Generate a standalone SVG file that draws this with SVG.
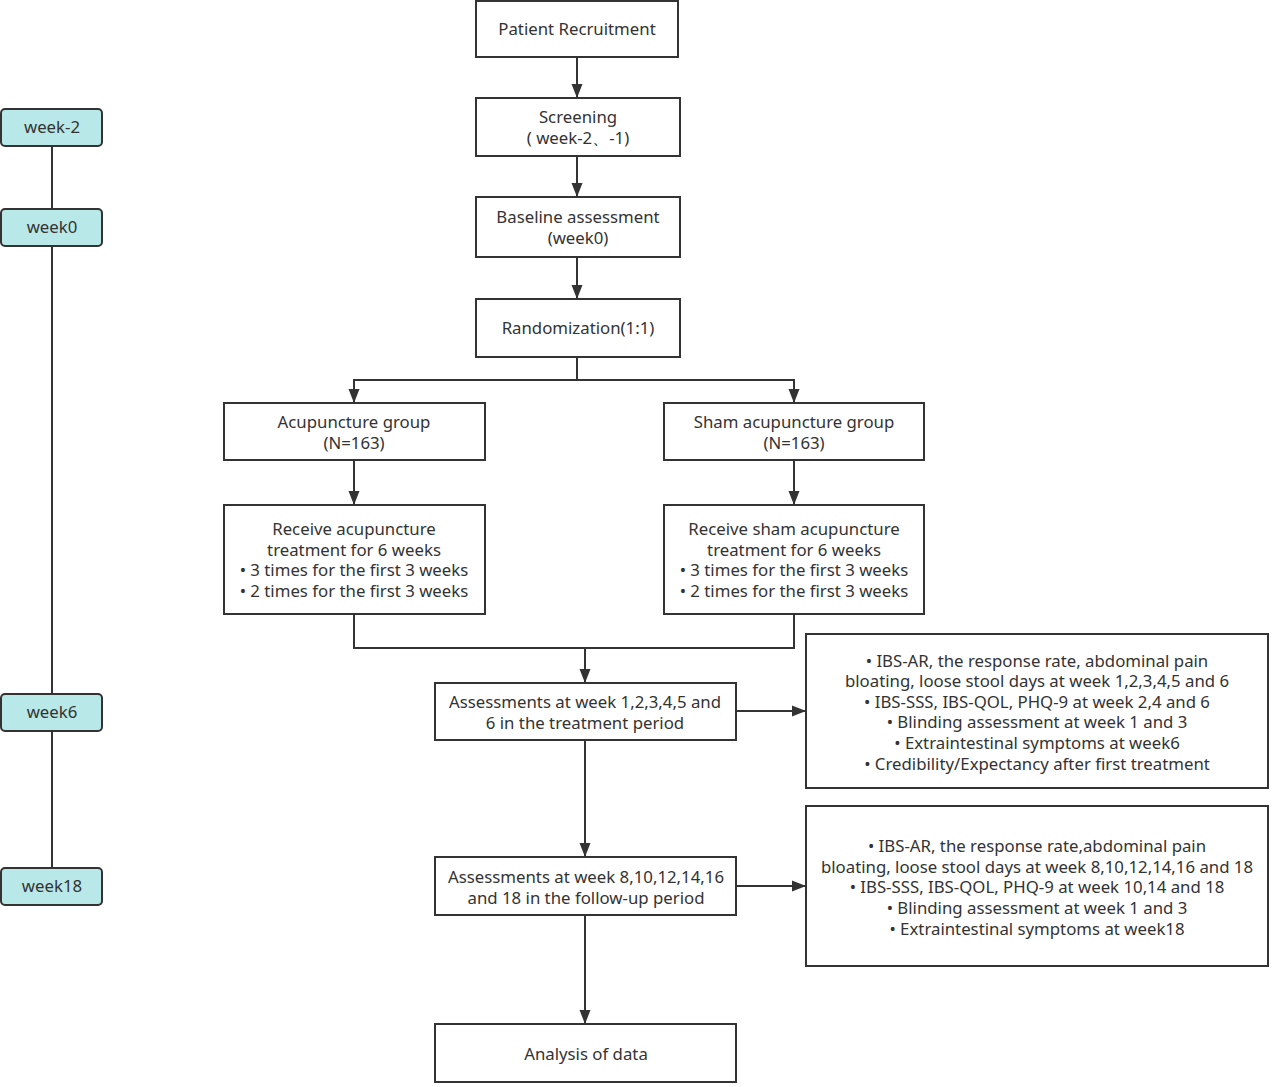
<svg xmlns="http://www.w3.org/2000/svg" width="1280" height="1087" viewBox="0 0 1280 1087">
<style>
.box{fill:#fff;stroke:#333;stroke-width:2}
.wk{fill:#b9e8e8;stroke:#333;stroke-width:2}
text{font-family:"Noto Sans","Open Sans",sans-serif;font-size:16.8px;fill:#333;text-anchor:middle}
.ln{fill:none;stroke:#333;stroke-width:2}
</style>
<defs>
<marker id="ah" viewBox="0 0 14 12" refX="14" refY="6" markerWidth="14" markerHeight="12" markerUnits="userSpaceOnUse" orient="auto">
<path d="M0,0.5 L14,6 L0,11.5 Z" fill="#333"/>
</marker>
</defs>
<rect width="1280" height="1087" fill="#fff"/>
<g id="connectors">
<line class="ln" x1="52" y1="146" x2="52" y2="209"/>
<line class="ln" x1="52" y1="246" x2="52" y2="694"/>
<line class="ln" x1="52" y1="731" x2="52" y2="868"/>
<line class="ln" x1="577" y1="57" x2="577" y2="98" marker-end="url(#ah)"/>
<line class="ln" x1="577" y1="156" x2="577" y2="197" marker-end="url(#ah)"/>
<line class="ln" x1="577" y1="257" x2="577" y2="299" marker-end="url(#ah)"/>
<polyline class="ln" points="577,357 577,380 354,380 354,403" marker-end="url(#ah)"/>
<polyline class="ln" points="577,380 794,380 794,403" marker-end="url(#ah)"/>
<line class="ln" x1="354" y1="460" x2="354" y2="505" marker-end="url(#ah)"/>
<line class="ln" x1="794" y1="460" x2="794" y2="505" marker-end="url(#ah)"/>
<polyline class="ln" points="354,614 354,648 794,648 794,614"/>
<line class="ln" x1="585" y1="648" x2="585" y2="683" marker-end="url(#ah)"/>
<line class="ln" x1="736" y1="711" x2="806" y2="711" marker-end="url(#ah)"/>
<line class="ln" x1="585" y1="740" x2="585" y2="857" marker-end="url(#ah)"/>
<line class="ln" x1="736" y1="886" x2="806" y2="886" marker-end="url(#ah)"/>
<line class="ln" x1="585" y1="915" x2="585" y2="1024" marker-end="url(#ah)"/>
</g>
<g id="wk-2"><rect class="wk" x="1" y="109" width="101" height="37" rx="4"/><text x="52" y="133">week-2</text></g>
<g id="wk0"><rect class="wk" x="1" y="209" width="101" height="37" rx="4"/><text x="52" y="233">week0</text></g>
<g id="wk6"><rect class="wk" x="1" y="694" width="101" height="37" rx="4"/><text x="52" y="718">week6</text></g>
<g id="wk18"><rect class="wk" x="1" y="868" width="101" height="37" rx="4"/><text x="52" y="892">week18</text></g>
<g id="recruit"><rect class="box" x="476" y="1" width="202" height="56"/><text x="577" y="35">Patient Recruitment</text></g>
<g id="screen"><rect class="box" x="476" y="98" width="204" height="58"/><text x="578" y="123">Screening</text><text x="578" y="144">( week-2、-1)</text></g>
<g id="baseline"><rect class="box" x="476" y="197" width="204" height="60"/><text x="578" y="223">Baseline assessment</text><text x="578" y="244">(week0)</text></g>
<g id="random"><rect class="box" x="476" y="299" width="204" height="58"/><text x="578" y="334">Randomization(1:1)</text></g>
<g id="acu"><rect class="box" x="224" y="403" width="261" height="57"/><text x="354" y="428">Acupuncture group</text><text x="354" y="449">(N=163)</text></g>
<g id="sham"><rect class="box" x="664" y="403" width="260" height="57"/><text x="794" y="428">Sham acupuncture group</text><text x="794" y="449">(N=163)</text></g>
<g id="acutx"><rect class="box" x="224" y="505" width="261" height="109"/>
<text x="354" y="535">Receive acupuncture</text><text x="354" y="556">treatment for 6 weeks</text><text x="354" y="576">• 3 times for the first 3 weeks</text><text x="354" y="597">• 2 times for the first 3 weeks</text></g>
<g id="shamtx"><rect class="box" x="664" y="505" width="260" height="109"/>
<text x="794" y="535">Receive sham acupuncture</text><text x="794" y="556">treatment for 6 weeks</text><text x="794" y="576">• 3 times for the first 3 weeks</text><text x="794" y="597">• 2 times for the first 3 weeks</text></g>
<g id="assess1"><rect class="box" x="435" y="683" width="301" height="57"/><text x="585" y="708">Assessments at week 1,2,3,4,5 and</text><text x="585" y="729">6 in the treatment period</text></g>
<g id="detail1"><rect class="box" x="806" y="634" width="462" height="154"/>
<text x="1037" y="667">• IBS-AR, the response rate, abdominal pain</text>
<text x="1037" y="687">bloating, loose stool days at week 1,2,3,4,5 and 6</text>
<text x="1037" y="708">• IBS-SSS, IBS-QOL, PHQ-9 at week 2,4 and 6</text>
<text x="1037" y="728">• Blinding assessment at week 1 and 3</text>
<text x="1037" y="749">• Extraintestinal symptoms at week6</text>
<text x="1037" y="770">• Credibility/Expectancy after first treatment</text></g>
<g id="assess2"><rect class="box" x="435" y="857" width="301" height="58"/><text x="586" y="883">Assessments at week 8,10,12,14,16</text><text x="586" y="904">and 18 in the follow-up period</text></g>
<g id="detail2"><rect class="box" x="806" y="806" width="462" height="160"/>
<text x="1037" y="852">• IBS-AR, the response rate,abdominal pain</text>
<text x="1037" y="873">bloating, loose stool days at week 8,10,12,14,16 and 18</text>
<text x="1037" y="893">• IBS-SSS, IBS-QOL, PHQ-9 at week 10,14 and 18</text>
<text x="1037" y="914">• Blinding assessment at week 1 and 3</text>
<text x="1037" y="935">• Extraintestinal symptoms at week18</text></g>
<g id="analysis"><rect class="box" x="435" y="1024" width="301" height="58"/><text x="586" y="1060">Analysis of data</text></g>
</svg>
